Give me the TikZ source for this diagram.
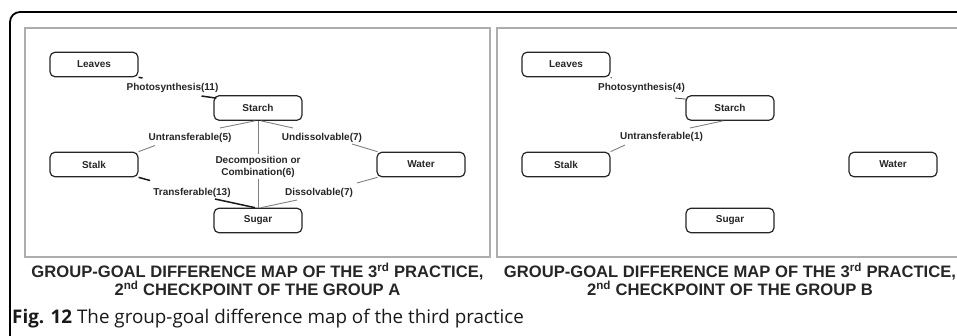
\documentclass[tikz,border=0pt]{standalone}
\usepackage{fontspec}
\setmainfont{Liberation Sans}
\newfontfamily\capfont{Open Sans}
\begin{document}
\begin{tikzpicture}[x=1pt,y=-1pt,
  concept/.style={draw=black!85, line width=1.2pt, rounded corners=5pt, minimum width=88pt, minimum height=24.5pt, inner sep=0pt, font=\fontsize{10}{12}\selectfont\bfseries, text=black!85},
  lab/.style={inner sep=1pt, font=\fontsize{10}{12}\selectfont\bfseries, text=black!85},
  strong/.style={draw=black!90, line width=1.5pt},
  weak/.style={draw=black!50, line width=0.9pt},
  panel/.style={draw=black!32, line width=1.5pt},
  maptitle/.style={font=\fontsize{16.6}{18}\selectfont\bfseries, align=center, text=black!85}]
\useasboundingbox (0,0) rectangle (957,335);
\begin{scope}
\clip (0,0) rectangle (957,335);
% outer frame
\draw[line width=1.8pt, rounded corners=10pt] (10,345) -- (10,12) -- (970,12);
% panels
\draw[panel] (25,28) rectangle (490,257);
\draw[panel] (497,28) rectangle (975,257);
\end{scope}

% ---------- left panel ----------
\node[concept] (lleaves) at (94,64.5) {Leaves};
\node[concept] (lstarch) at (258,108) {Starch};
\node[concept] (lstalk) at (94,164.5) {Stalk};
\node[concept] (lwater) at (421,164.5) {Water};
\node[concept] (lsugar) at (258,220.5) {Sugar};

\draw[weak] (lstarch.south) -- (lsugar.north);

\node[lab] (lph) at (172.5,88) {Photosynthesis(11)};
\node[lab] (lun) at (190,137.5) {Untransferable(5)};
\node[lab] (lud) at (322,138) {Undissolvable(7)};
\node[lab, fill=white, align=center, inner sep=2pt] (ldc) at (258,166.5) {Decomposition or\\Combination(6)};
\node[lab] (ltr) at (192,192.5) {Transferable(13)};
\node[lab] (lds) at (319,192.5) {Dissolvable(7)};

\draw[strong] (lleaves.south east) -- ([shift={(-30,-10)}]lph.center);
\draw[strong] ([shift={(29,8)}]lph.center) -- ([shift={(3,3)}]lstarch.north west);
\draw[weak] (lstalk.north east) -- ([shift={(-35,8)}]lun.center);
\draw[weak] ([shift={(30,-9.5)}]lun.center) -- ([xshift=-3pt]lstarch.south);
\draw[weak] ([xshift=3pt]lstarch.south) -- ([shift={(-29,-10)}]lud.center);
\draw[weak] ([shift={(30,6)}]lud.center) -- ([xshift=1pt]lwater.north west);
\draw[strong] (lstalk.south east) -- ([shift={(-42,-12)}]ltr.center);
\draw[strong] ([shift={(23,6.5)}]ltr.center) -- ([xshift=-3pt]lsugar.north);
\draw[weak] ([xshift=1pt]lwater.south west) -- ([shift={(38,-9.5)}]lds.center);
\draw[weak] ([shift={(-22,7.5)}]lds.center) -- ([xshift=3pt]lsugar.north);

\node[maptitle] (lcap) at (257.5,279) {GROUP-GOAL DIFFERENCE MAP OF THE 3\textsuperscript{rd} PRACTICE,\\2\textsuperscript{nd} CHECKPOINT OF THE GROUP A};

% ---------- right panel ----------
\node[concept] (rleaves) at (566,64.5) {Leaves};
\node[concept] (rstarch) at (730,108) {Starch};
\node[concept] (rstalk) at (566,164.5) {Stalk};
\node[concept] (rwater) at (893,164.5) {Water};
\node[concept] (rsugar) at (730,220.5) {Sugar};

\node[lab] (rph) at (641.5,88) {Photosynthesis(4)};
\node[lab] (run) at (661.5,137) {Untransferable(1)};

\draw[weak, draw=black!65] (rleaves.south east) -- ([shift={(-29.5,-10)}]rph.center);
\draw[weak, draw=black!65] ([shift={(33.5,10)}]rph.center) -- ([shift={(1,4)}]rstarch.north west);
\draw[weak] (rstalk.north east) -- ([shift={(-36.5,8)}]run.center);
\draw[weak] ([shift={(28.5,-9)}]run.center) -- ([xshift=-7pt]rstarch.south);

\node[maptitle] (rcap) at (730,279) {GROUP-GOAL DIFFERENCE MAP OF THE 3\textsuperscript{rd} PRACTICE,\\2\textsuperscript{nd} CHECKPOINT OF THE GROUP B};

% ---------- figure caption ----------
\node[anchor=west, inner sep=0pt, font=\capfont\fontsize{18.8}{20}\selectfont, text=black!90] (fig) at (12,319) {\textbf{Fig. 12} The group-goal difference map of the third practice};
\end{tikzpicture}
\end{document}
